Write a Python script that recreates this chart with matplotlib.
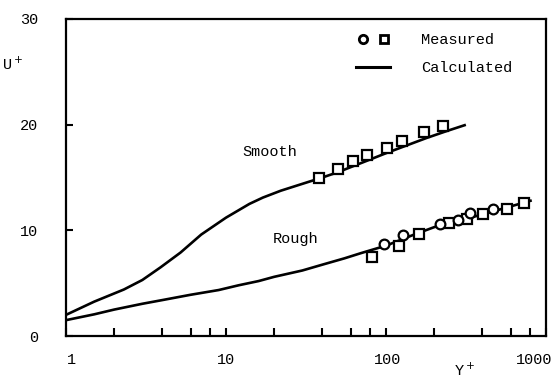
import numpy as np
import matplotlib
matplotlib.use("Agg")
import matplotlib.pyplot as plt
from matplotlib.lines import Line2D
from matplotlib.legend_handler import HandlerTuple
import matplotlib.transforms as mtransforms

plt.rcParams['font.family'] = ['Liberation Mono', 'DejaVu Sans']

# calculated profiles
smooth_x = [1, 1.5, 2.3, 3.0, 3.9, 5.2, 7, 10, 14, 17, 22, 30, 40, 50, 75, 100, 130, 180, 240, 310]
smooth_y = [2.0, 3.25, 4.4, 5.3, 6.5, 7.9, 9.6, 11.2, 12.5, 13.1, 13.75, 14.4, 15.0, 15.5, 16.55,
            17.3, 17.95, 18.75, 19.4, 19.95]
rough_x = [1, 1.5, 2, 3, 4, 6, 9, 12, 16, 20, 30, 40, 55, 70, 100, 150, 200, 300, 400, 550, 800]
rough_y = [1.5, 2.05, 2.5, 3.05, 3.4, 3.9, 4.35, 4.8, 5.2, 5.6, 6.2, 6.75, 7.35, 7.85, 8.55,
           9.6, 10.3, 11.0, 11.5, 12.1, 12.8]

# measured points
smooth_sq_x = [38.3, 50.3, 62.5, 76.4, 101, 125.3, 172.8, 226]
smooth_sq_y = [14.92, 15.77, 16.58, 17.12, 17.75, 18.47, 19.33, 19.87]
rough_sq_x = [81.4, 120.5, 161.4, 248.7, 322, 402, 568, 729]
rough_sq_y = [7.50, 8.51, 9.62, 10.66, 11.04, 11.54, 11.99, 12.61]
rough_ci_x = [97.2, 128.3, 217.6, 283, 335, 469]
rough_ci_y = [8.70, 9.56, 10.60, 10.97, 11.61, 11.99]

FS = 11

fig = plt.figure(figsize=(5.56, 3.80), dpi=100)
ax = fig.add_axes([66 / 556, 1 - 336 / 380, 480 / 556, 317 / 380])

ax.plot(smooth_x, smooth_y, color="black", lw=1.9)
ax.plot(rough_x, rough_y, color="black", lw=1.9)

mk = dict(color="black", mfc="white", mew=1.6, ms=7, ls="none")
ax.plot(smooth_sq_x, smooth_sq_y, marker="s", **mk)
ax.plot(rough_sq_x, rough_sq_y, marker="s", **mk)
ax.plot(rough_ci_x, rough_ci_y, marker="o", **mk)

ax.set_xscale("log")
ax.set_xlim(1, 1000)
ax.set_ylim(0, 30)

ax.set_xticks([1, 10, 100, 1000])
ax.set_xticklabels(["1", "10", "100", "1000"])
ax.set_xticks([2, 4, 6, 8, 20, 40, 60, 80, 200, 400, 600, 800], minor=True)
ax.set_xticklabels([], minor=True)
ax.set_yticks([0, 10, 20, 30])
ax.tick_params(axis="x", which="both", direction="in", length=6, width=1.5,
               pad=12, labelsize=FS)
ax.tick_params(axis="y", direction="in", length=5, width=1.5, pad=20, labelsize=FS)
for s in ax.spines.values():
    s.set_linewidth(1.6)

labs = ax.get_xticklabels()
offs = [6, 0, 2, -12]
for lab, dx in zip(labs, offs):
    lab.set_transform(lab.get_transform() +
                      mtransforms.ScaledTranslation(dx / 100, 0, fig.dpi_scale_trans))

ax.text(12.6, 17.4, "Smooth", fontsize=FS, ha="left", va="center")
ax.text(19.7, 9.2, "Rough", fontsize=FS, ha="left", va="center")

fig.text(13 / 556, 1 - 64 / 380, r"U$^+$", fontsize=FS, ha="center", va="center")
fig.text(465 / 556, 1 - 370 / 380, r"Y$^+$", fontsize=FS, ha="center", va="center")

h_ci = Line2D([], [], marker="o", color="black", mfc="white", mew=2, ms=6, ls="none")
h_sq = Line2D([], [], marker="s", color="black", mfc="white", mew=2, ms=6, ls="none")
h_ln = Line2D([], [], color="black", lw=2.2)
ax.legend([(h_ci, h_sq), h_ln], ["Measured", "Calculated"],
          handler_map={tuple: HandlerTuple(ndivide=None, pad=0.6)},
          loc="upper right", bbox_to_anchor=(1 - 28 / 480, 1 - 8 / 317),
          frameon=False, fontsize=FS, handlelength=2.2,
          handletextpad=2.0, labelspacing=0.9, borderaxespad=0)

fig.savefig("out.png", dpi=100)
